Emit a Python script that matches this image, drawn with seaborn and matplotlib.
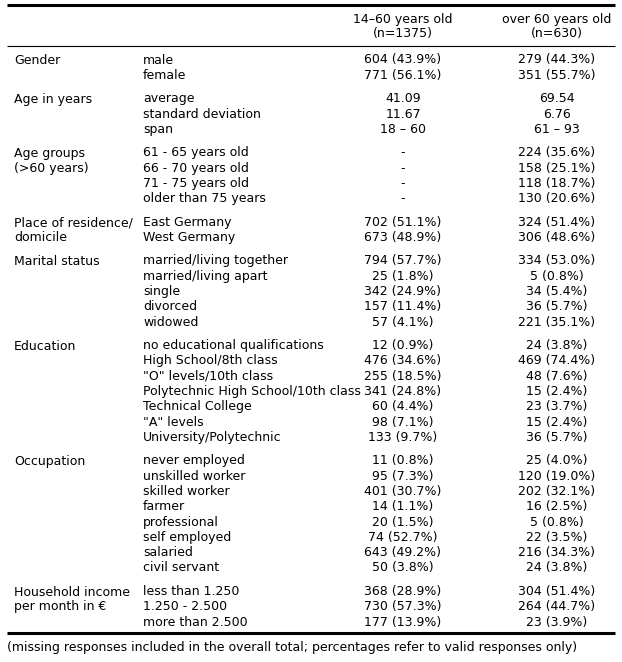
import matplotlib
matplotlib.use("Agg")
import matplotlib.pyplot as plt
import seaborn as sns

sns.set_theme(style="white")
plt.rcParams['font.family'] = ['DejaVu Sans']
plt.rcParams['text.color'] = 'black'

col_headers = ["14\u201360 years old\n(n=1375)", "over 60 years old\n(n=630)"]

group_labels = ["Gender", "Age in years", "Age groups\n(>60 years)",
                "Place of residence/\ndomicile", "Marital status", "Education",
                "Occupation", "Household income\nper month in \u20ac"]

gender_items = ["male", "female"]
gender_young = ["604 (43.9%)", "771 (56.1%)"]
gender_old = ["279 (44.3%)", "351 (55.7%)"]

age_items = ["average", "standard deviation", "span"]
age_young = ["41.09", "11.67", "18 \u2013 60"]
age_old = ["69.54", "6.76", "61 \u2013 93"]

agegrp_items = ["61 - 65 years old", "66 - 70 years old", "71 - 75 years old", "older than 75 years"]
agegrp_young = ["-", "-", "-", "-"]
agegrp_old = ["224 (35.6%)", "158 (25.1%)", "118 (18.7%)", "130 (20.6%)"]

place_items = ["East Germany", "West Germany"]
place_young = ["702 (51.1%)", "673 (48.9%)"]
place_old = ["324 (51.4%)", "306 (48.6%)"]

marital_items = ["married/living together", "married/living apart", "single", "divorced", "widowed"]
marital_young = ["794 (57.7%)", "25 (1.8%)", "342 (24.9%)", "157 (11.4%)", "57 (4.1%)"]
marital_old = ["334 (53.0%)", "5 (0.8%)", "34 (5.4%)", "36 (5.7%)", "221 (35.1%)"]

edu_items = ["no educational qualifications", "High School/8th class", "\"O\" levels/10th class",
             "Polytechnic High School/10th class", "Technical College", "\"A\" levels",
             "University/Polytechnic"]
edu_young = ["12 (0.9%)", "476 (34.6%)", "255 (18.5%)", "341 (24.8%)", "60 (4.4%)", "98 (7.1%)", "133 (9.7%)"]
edu_old = ["24 (3.8%)", "469 (74.4%)", "48 (7.6%)", "15 (2.4%)", "23 (3.7%)", "15 (2.4%)", "36 (5.7%)"]

occ_items = ["never employed", "unskilled worker", "skilled worker", "farmer", "professional",
             "self employed", "salaried", "civil servant"]
occ_young = ["11 (0.8%)", "95 (7.3%)", "401 (30.7%)", "14 (1.1%)", "20 (1.5%)", "74 (52.7%)",
             "643 (49.2%)", "50 (3.8%)"]
occ_old = ["25 (4.0%)", "120 (19.0%)", "202 (32.1%)", "16 (2.5%)", "5 (0.8%)", "22 (3.5%)",
           "216 (34.3%)", "24 (3.8%)"]

income_items = ["less than 1.250", "1.250 - 2.500", "more than 2.500"]
income_young = ["368 (28.9%)", "730 (57.3%)", "177 (13.9%)"]
income_old = ["304 (51.4%)", "264 (44.7%)", "23 (3.9%)"]

footnote = "(missing responses included in the overall total; percentages refer to valid responses only)"

groups = [
    (gender_items, gender_young, gender_old),
    (age_items, age_young, age_old),
    (agegrp_items, agegrp_young, agegrp_old),
    (place_items, place_young, place_old),
    (marital_items, marital_young, marital_old),
    (edu_items, edu_young, edu_old),
    (occ_items, occ_young, occ_old),
    (income_items, income_young, income_old),
]

fig = plt.figure(figsize=(6.22, 6.62), dpi=100)
ax = fig.add_axes([0, 0, 1, 1])
ax.set_xlim(0, 622)
ax.set_ylim(662, 0)
ax.axis("off")

fs = 9
x_group, x_item, x_young, x_old = 14, 143, 403, 557
step, gap = 15.3, 8.16

# header
ax.hlines(5, 7, 615, color="black", lw=2.2)
for x, h in zip([x_young, x_old], col_headers):
    ax.text(x, 26.5, h, ha="center", va="center", fontsize=fs, linespacing=1.15)
ax.hlines(46, 7, 615, color="black", lw=0.8)

y = 60
for label, (items, young, old) in zip(group_labels, groups):
    ax.text(x_group, y - 5.8, label, ha="left", va="top", fontsize=fs, linespacing=1.17)
    for it, a, b in zip(items, young, old):
        ax.text(x_item, y, it, ha="left", va="center", fontsize=fs)
        ax.text(x_young, y, a, ha="center", va="center", fontsize=fs)
        ax.text(x_old, y, b, ha="center", va="center", fontsize=fs)
        y += step
    y += gap

ax.hlines(633, 7, 615, color="black", lw=2.2)
ax.text(7, 648, footnote, ha="left", va="center", fontsize=fs)

fig.savefig("out.png", dpi=100, facecolor="white")
